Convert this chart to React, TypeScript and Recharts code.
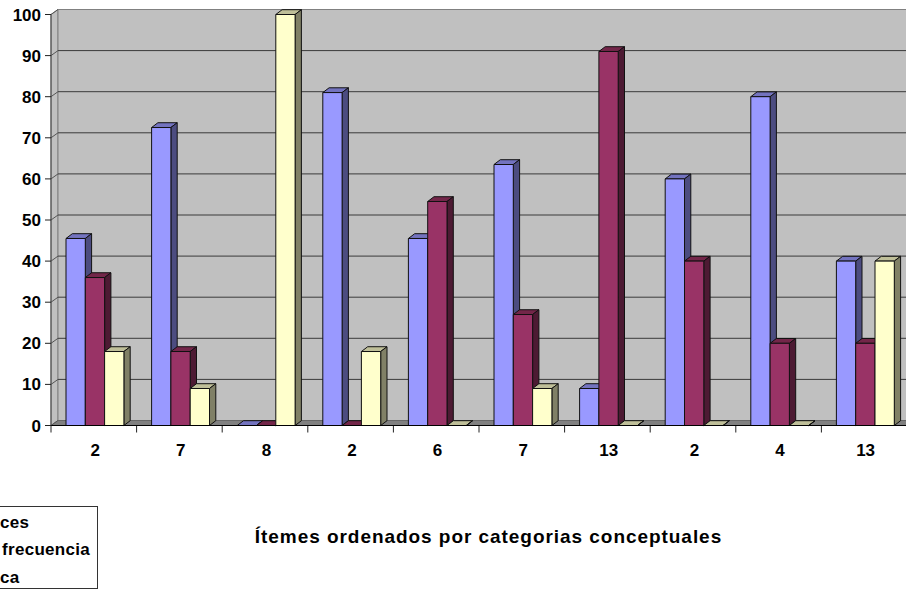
import { BarChart, Bar, XAxis, YAxis, Legend, usePlotArea } from 'recharts'

const categories = ['2', '7', '8', '2', '6', '7', '13', '2', '4', '13']
const seriesA = [45.5, 72.5, 0, 81, 45.5, 63.5, 9, 60, 80, 40]
const seriesB = [36, 18, 0, 0, 54.5, 27, 91, 40, 20, 20]
const seriesC = [18, 9, 100, 18, 0, 9, 0, 0, 0, 40]
const yTicks = [0, 10, 20, 30, 40, 50, 60, 70, 80, 90, 100]
const legendLabels = ['ces', 'frecuencia', 'ca']
const axisTitle = 'Ítemes ordenados por categorias conceptuales'

const tableData = categories.map((c, i) => ({ idx: i, cat: c, a: seriesA[i], b: seriesB[i], c: seriesC[i] }))

const FONT = '"Liberation Sans", Arial, sans-serif'
const DX = 7
const DY = 5

// back wall + side wall + floor + gridlines of the fake 3D box
function Walls() {
  const p = usePlotArea()
  if (!p) return null
  const { x, y, width, height } = p
  const b = y + height
  return (
    <g>
      <polygon points={`${x},${y} ${x + DX},${y - DY} ${x + DX},${b - DY} ${x},${b}`} fill="#C0C0C0" stroke="#808080" />
      <rect x={x + DX} y={y - DY} width={width} height={height} fill="#C0C0C0" stroke="#808080" />
      <polygon points={`${x},${b} ${x + DX},${b - DY} ${x + width + DX},${b - DY} ${x + width},${b}`} fill="#808080" stroke="#808080" />
      {yTicks.map((t) => {
        const ty = b - (t / 100) * height
        return (
          <g key={t}>
            <line x1={x} y1={ty} x2={x + DX} y2={ty - DY} stroke="#555" />
            {t < 100 && <line x1={x + DX} y1={ty - DY} x2={x + width + DX} y2={ty - DY} stroke={t === 0 ? '#666' : '#3a3a3a'} />}
          </g>
        )
      })}
    </g>
  )
}

const box3d = (front: string, side: string, top: string) => (props: any) => {
  const { x, y, width, height } = props
  const d = 6.3
  const up = 4.8
  const l = x + 1
  const r = l + width
  const b = y + height
  return (
    <g stroke="#111" strokeWidth={1} strokeLinejoin="round">
      <polygon points={`${l},${y} ${l + d},${y - up} ${r + d},${y - up} ${r},${y}`} fill={top} />
      <polygon points={`${r},${y} ${r + d},${y - up} ${r + d},${b - up} ${r},${b}`} fill={side} />
      <rect x={l} y={y} width={width} height={height} fill={front} />
    </g>
  )
}

const legendBox = () => (
  <div
    style={{
      position: 'absolute',
      left: -20,
      top: 506,
      width: 116,
      height: 81,
      border: '1px solid #333',
      background: '#fff',
      fontFamily: FONT,
      fontWeight: 700,
      fontSize: 17,
      color: '#000',
    }}
  >
    {legendLabels.map((t, i) => (
      <div key={t} style={{ position: 'absolute', left: [19, 21, 19][i], top: [6, 33, 61][i], letterSpacing: 0.3, whiteSpace: 'nowrap' }}>
        {t}
      </div>
    ))}
  </div>
)

export default function App() {
  return (
    <div style={{ position: 'absolute', left: 0, top: 0, width: 906, height: 590, overflow: 'hidden', background: '#fff' }}>
      <BarChart
        width={920}
        height={590}
        data={tableData}
        barGap={0}
        barSize={19.3}
        margin={{ top: 14.5, right: 13, left: 0, bottom: 0 }}
      >
        <Walls />
        <XAxis
          dataKey="idx"
          tickFormatter={(i) => categories[i]}
          height={164.5}
          interval={0}
          tickLine={false}
          axisLine={{ stroke: '#000' }}
          tickMargin={12}
          tick={{ fill: '#000', fontFamily: FONT, fontWeight: 700, fontSize: 17, dx: 1.4 }}
        />
        <YAxis
          domain={[0, 100]}
          ticks={yTicks}
          width={51}
          interval={0}
          tickSize={6}
          tickLine={{ stroke: '#222' }}
          axisLine={{ stroke: '#444' }}
          tick={{ fill: '#000', fontFamily: FONT, fontWeight: 700, fontSize: 17, dx: -2 }}
        />
        <Bar dataKey="a" isAnimationActive={false} shape={box3d('#9999FF', '#4C4C80', '#7373BF')} />
        <Bar dataKey="b" isAnimationActive={false} shape={box3d('#993366', '#4D1A33', '#732649')} />
        <Bar dataKey="c" isAnimationActive={false} shape={box3d('#FFFFCC', '#808066', '#BFBF99')} />
        <Legend content={legendBox} wrapperStyle={{ left: 0, top: 0, width: 0, height: 0 }} />
        {categories.map((_, i) => (
          <line key={i} x1={51 + i * 85.6} x2={51 + i * 85.6} y1={425.5} y2={432.5} stroke="#222" />
        ))}
        <text x={488.5} y={543} textAnchor="middle" fontFamily={FONT} fontWeight={700} fontSize={19} letterSpacing={0.95} fill="#000">
          {axisTitle}
        </text>
      </BarChart>
    </div>
  )
}
